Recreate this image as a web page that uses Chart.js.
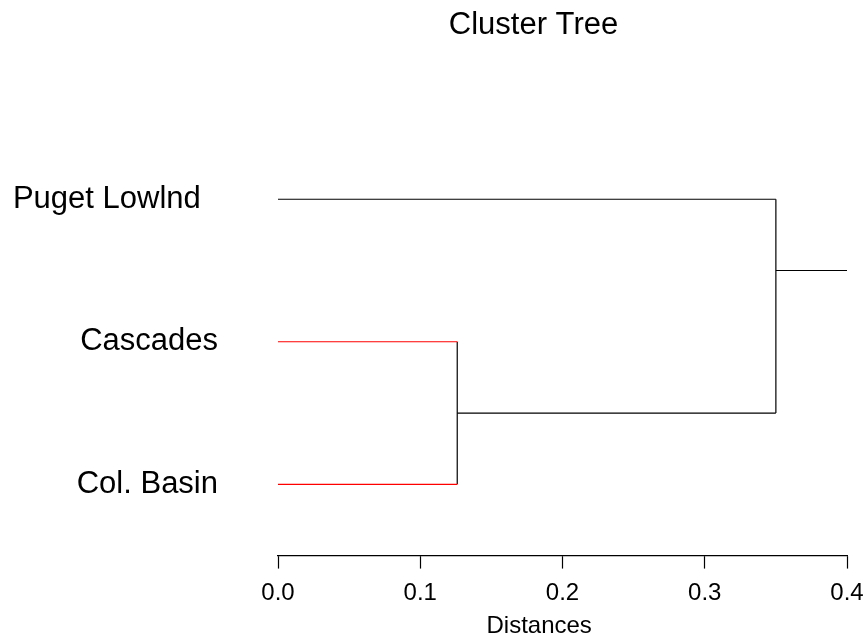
<!DOCTYPE html>
<html>
<head>
<meta charset="utf-8">
<script src="https://cdn.jsdelivr.net/npm/chart.js@4/dist/chart.umd.min.js"></script>
<style>
  html, body { margin: 0; padding: 0; background: #fff; }
  #wrap { width: 865px; height: 643px; }
</style>
</head>
<body>
<div id="wrap"><canvas id="tree"></canvas></div>
<script>
// leaves from bottom to top, with their row position on the y scale
const leafNames = ["Col. Basin", "Cascades", "Puget Lowlnd"];
const leafRows = [1, 2, 3];
const leafColors = ["#ff0000", "#ff0000", "#000000"];

// merge heights: Cascades + Col. Basin, then with Puget Lowlnd
const mergeHeights = [0.126, 0.35];
const rootTop = 0.4;

const distanceTicks = [0, 0.1, 0.2, 0.3, 0.4];

Chart.defaults.font.family = "'Liberation Sans', Arial, sans-serif";
Chart.defaults.color = "#000";

// build the segments of the tree
const lowMid = (leafRows[0] + leafRows[1]) / 2;
const rootMid = (leafRows[1] + leafRows[2]) / 2;

function seg(points, color) {
  return {
    data: points,
    borderColor: color,
    borderWidth: 1.2,
    pointRadius: 0,
    showLine: true,
    fill: false,
  };
}

const segments = [
  // leaf branches
  seg([{ x: 0, y: leafRows[2] }, { x: mergeHeights[1], y: leafRows[2] }], leafColors[2]),
  seg([{ x: 0, y: leafRows[1] }, { x: mergeHeights[0], y: leafRows[1] }], leafColors[1]),
  seg([{ x: 0, y: leafRows[0] }, { x: mergeHeights[0], y: leafRows[0] }], leafColors[0]),
  // first merge
  seg([{ x: mergeHeights[0], y: leafRows[0] }, { x: mergeHeights[0], y: leafRows[1] }], "#000"),
  seg([{ x: mergeHeights[0], y: lowMid }, { x: mergeHeights[1], y: lowMid }], "#000"),
  // second merge
  seg([{ x: mergeHeights[1], y: lowMid }, { x: mergeHeights[1], y: leafRows[2] }], "#000"),
  // root stub
  seg([{ x: mergeHeights[1], y: rootMid }, { x: rootTop, y: rootMid }], "#000"),
];

new Chart(document.getElementById("tree"), {
  type: "line",
  data: { datasets: segments },
  options: {
    responsive: true,
    maintainAspectRatio: false,
    animation: false,
    layout: { padding: { left: 220, right: 18, top: 0, bottom: 4.5 } },
    plugins: {
      legend: { display: false },
      tooltip: { enabled: false },
      title: {
        display: true,
        text: "Cluster Tree",
        color: "#000",
        font: { size: 31, weight: "normal" },
        padding: { top: 7, bottom: 12.5 },
      },
    },
    scales: {
      x: {
        type: "linear",
        min: 0,
        max: 0.4,
        afterBuildTicks: (scale) => {
          scale.ticks = distanceTicks.map((v) => ({ value: v }));
        },
        ticks: {
          font: { size: 24, lineHeight: 2.08 },
          color: "#000",
          padding: 0,
          maxRotation: 0,
          callback: (v) => Number(v).toFixed(1),
        },
        grid: {
          drawOnChartArea: false,
          drawTicks: true,
          tickLength: 13,
          color: "#000",
          tickWidth: 1.2,
        },
        border: { display: true, color: "#000", width: 1.2 },
        title: {
          display: true,
          // trailing spaces pull the centred label left, like R does
          text: "Distances       ",
          color: "#000",
          font: { size: 24, lineHeight: 1 },
          padding: { top: -4, bottom: 0 },
        },
      },
      y: {
        type: "linear",
        min: 0.5,
        max: 4,
        afterFit: (scale) => {
          scale.width = 58;
          // labels sit further left than the axis box, so don't clip them
          scale._computeLabelArea = () => undefined;
        },
        afterBuildTicks: (scale) => {
          scale.ticks = leafRows.map((v) => ({ value: v }));
        },
        ticks: {
          font: { size: 31 },
          color: "#000",
          padding: 0,
          autoSkip: false,
          callback: (v) => {
            const i = leafRows.indexOf(v);
            // R leaves a little gap after the top label
            return i === 2 ? leafNames[i] + "  " : leafNames[i];
          },
        },
        // invisible tick marks give the gap between labels and branches
        grid: {
          display: true,
          drawOnChartArea: false,
          drawTicks: true,
          tickLength: 60,
          color: "rgba(0,0,0,0)",
        },
        border: { display: false },
      },
    },
  },
});
</script>
</body>
</html>
